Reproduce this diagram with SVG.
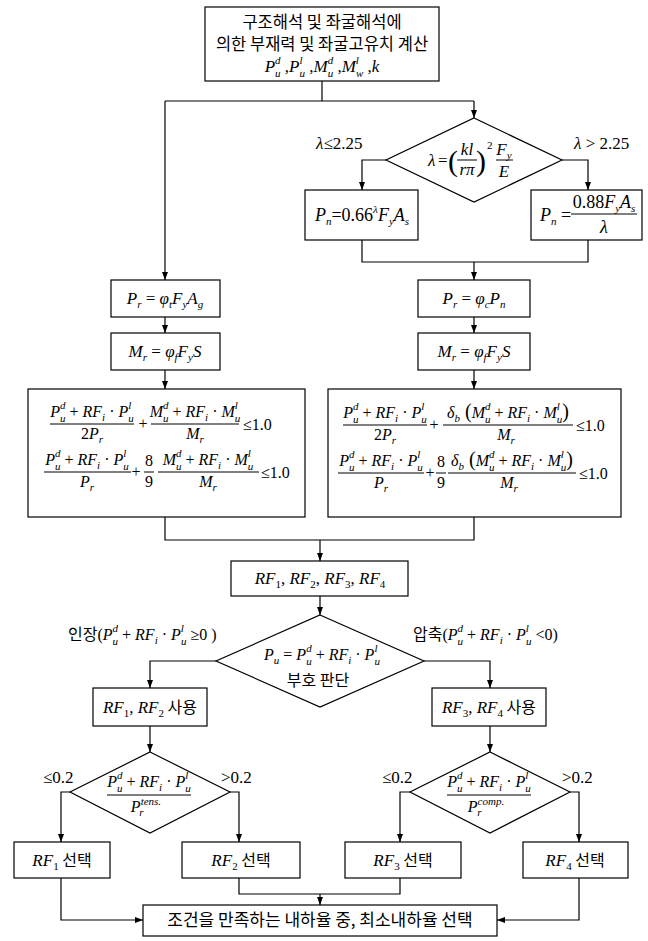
<svg xmlns="http://www.w3.org/2000/svg" width="648" height="941" viewBox="0 0 648 941">
<defs>
<marker id="ah" viewBox="0 0 8 6" refX="8" refY="3" markerWidth="8" markerHeight="6" orient="auto" markerUnits="userSpaceOnUse"><path d="M0,0 L8,3 L0,6 z" fill="#000"/></marker>
</defs>
<style>
.b{fill:#fff;stroke:#000;stroke-width:1.2}
.c{fill:none;stroke:#000;stroke-width:1.2}
.a{fill:none;stroke:#000;stroke-width:1.2;marker-end:url(#ah)}
.k{font-family:"Noto Sans CJK KR","Noto Sans",sans-serif;font-size:16px;fill:#000}
.m{font-family:"Liberation Serif",serif;font-style:italic;font-size:17px;fill:#000}
.e{font-size:16px}
.n{font-style:normal}
.s{font-size:11px}
.kk{font-family:"Noto Sans CJK KR","Noto Sans",sans-serif;font-style:normal;font-size:16px}
.bar{stroke:#000;stroke-width:1}
</style>
<rect x="0" y="0" width="648" height="941" fill="#fff"/>

<g id="connectors">
<path class="c" d="M322,81 V101"/>
<path class="c" d="M165,101 H474"/>
<path class="a" d="M165,101 V280"/>
<path class="a" d="M474,101 V118"/>
<path class="a" d="M386,160 H362 V190"/>
<path class="a" d="M562,160 H588 V190"/>
<path class="c" d="M362,240 V262 H588 V240"/>
<path class="a" d="M474,262 V280"/>
<path class="a" d="M165,317 V333"/>
<path class="a" d="M474,317 V333"/>
<path class="a" d="M165,370 V389"/>
<path class="a" d="M474,370 V389"/>
<path class="c" d="M165,517 V540 H474 V517"/>
<path class="a" d="M320,540 V561"/>
<path class="a" d="M320,596 V615"/>
<path class="a" d="M216,661 H150 V688"/>
<path class="a" d="M424,661 H490 V688"/>
<path class="a" d="M150,726 V752"/>
<path class="a" d="M490,726 V752"/>
<path class="a" d="M70,792 H61 V842"/>
<path class="a" d="M230,792 H239 V842"/>
<path class="a" d="M410,792 H400 V842"/>
<path class="a" d="M570,792 H579 V842"/>
<path class="a" d="M61,878 V920 H143"/>
<path class="c" d="M239,878 V894 H400 V878"/>
<path class="a" d="M320,894 V905"/>
<path class="a" d="M579,878 V920 H497"/>
</g>

<g id="n-top">
<rect class="b" x="205" y="7" width="234" height="74"/>
<text class="k" x="322" y="28" text-anchor="middle" style="font-size:16.5px">구조해석 및 좌굴해석에</text>
<text class="k" x="322" y="50" text-anchor="middle" style="font-size:16.5px">의한 부재력 및 좌굴고유치 계산</text>
<text class="m" x="322" y="72" text-anchor="middle">P<tspan class="s" dy="-8">d</tspan><tspan class="s" dx="-5.5" dy="12.5">u</tspan><tspan class="n" dy="-4.5"> ,</tspan>P<tspan class="s" dy="-8">l</tspan><tspan class="s" dx="-3" dy="12.5">u</tspan><tspan class="n" dy="-4.5"> ,</tspan>M<tspan class="s" dy="-8">d</tspan><tspan class="s" dx="-5.5" dy="12.5">u</tspan><tspan class="n" dy="-4.5"> ,</tspan>M<tspan class="s" dy="-8">l</tspan><tspan class="s" dx="-3" dy="12.5">w</tspan><tspan class="n" dy="-4.5"> ,</tspan>k</text>
</g>

<g id="n-lambda">
<polygon class="b" points="474,118 562,160 474,202 386,160"/>
<text class="m" x="428" y="166">λ</text>
<text class="m n" x="438" y="166">=</text>
<text class="m n" x="448" y="171" style="font-size:30px">(</text>
<text class="m" x="467" y="155" text-anchor="middle">kl</text>
<line class="bar" x1="457" y1="160" x2="477" y2="160"/>
<text class="m" x="467" y="175" text-anchor="middle">rπ</text>
<text class="m n" x="476" y="171" style="font-size:30px">)</text>
<text class="m n s" x="487" y="149">2</text>
<text class="m" x="504" y="155" text-anchor="middle">F<tspan class="s" dy="4">y</tspan></text>
<line class="bar" x1="496" y1="160" x2="513" y2="160"/>
<text class="m" x="504" y="177" text-anchor="middle">E</text>
</g>
<text class="m" x="316" y="149">λ<tspan class="n">≤2.25</tspan></text>
<text class="m" x="574" y="149">λ<tspan class="n"> &gt; 2.25</tspan></text>

<g id="n-pn1">
<rect class="b" x="305" y="190" width="113" height="50"/>
<text class="m" x="362" y="221" text-anchor="middle" style="font-size:18px">P<tspan class="s" dy="4">n</tspan><tspan class="n" dy="-4">=0.66</tspan><tspan class="s" dy="-8">λ</tspan><tspan dy="8">F</tspan><tspan class="s" dy="4">y</tspan><tspan dy="-4">A</tspan><tspan class="s" dy="4">s</tspan></text>
</g>

<g id="n-pn2">
<rect class="b" x="531" y="190" width="111" height="50"/>
<text class="m" x="540" y="221" style="font-size:18px">P<tspan class="s" dy="4">n</tspan><tspan class="n" dy="-4"> =</tspan></text>
<text class="m" x="604" y="208" text-anchor="middle" style="font-size:18px"><tspan class="n">0.88</tspan>F<tspan class="s" dy="4">y</tspan><tspan dy="-4">A</tspan><tspan class="s" dy="4">s</tspan></text>
<line class="bar" x1="571" y1="214" x2="637" y2="214"/>
<text class="m" x="604" y="233" text-anchor="middle" style="font-size:18px">λ</text>
</g>

<g id="n-pr1">
<rect class="b" x="111" y="280" width="109" height="37"/>
<text class="m" x="165" y="304" text-anchor="middle">P<tspan class="s" dy="4">r</tspan><tspan class="n" dy="-4"> = </tspan>φ<tspan class="s" dy="4">t</tspan><tspan dy="-4">F</tspan><tspan class="s" dy="4">y</tspan><tspan dy="-4">A</tspan><tspan class="s" dy="4">g</tspan></text>
</g>
<g id="n-mr1">
<rect class="b" x="111" y="333" width="109" height="37"/>
<text class="m" x="165" y="357" text-anchor="middle">M<tspan class="s" dy="4">r</tspan><tspan class="n" dy="-4"> = </tspan>φ<tspan class="s" dy="4">f</tspan><tspan dy="-4">F</tspan><tspan class="s" dy="4">y</tspan><tspan dy="-4">S</tspan></text>
</g>
<g id="n-pr2">
<rect class="b" x="418" y="280" width="112" height="37"/>
<text class="m" x="474" y="304" text-anchor="middle">P<tspan class="s" dy="4">r</tspan><tspan class="n" dy="-4"> = </tspan>φ<tspan class="s" dy="4">c</tspan><tspan dy="-4">P</tspan><tspan class="s" dy="4">n</tspan></text>
</g>
<g id="n-mr2">
<rect class="b" x="418" y="333" width="112" height="37"/>
<text class="m" x="474" y="357" text-anchor="middle">M<tspan class="s" dy="4">r</tspan><tspan class="n" dy="-4"> = </tspan>φ<tspan class="s" dy="4">f</tspan><tspan dy="-4">F</tspan><tspan class="s" dy="4">y</tspan><tspan dy="-4">S</tspan></text>
</g>

<g id="n-eq1">
<rect class="b" x="28" y="389" width="277" height="128"/>
<text class="m e" x="92" y="417" text-anchor="middle">P<tspan class="s" dy="-8">d</tspan><tspan class="s" dx="-5.5" dy="12.5">u</tspan><tspan class="n" dy="-4.5"> + </tspan>RF<tspan class="s" dy="4">i</tspan><tspan class="n" dy="-4"> · </tspan>P<tspan class="s" dy="-8">l</tspan><tspan class="s" dx="-3" dy="12.5">u</tspan></text>
<line class="bar" x1="50" y1="424" x2="134" y2="424"/>
<text class="m e" x="92" y="439" text-anchor="middle"><tspan class="n">2</tspan>P<tspan class="s" dy="4">r</tspan></text>
<text class="m e n" x="143" y="429" text-anchor="middle">+</text>
<text class="m e" x="195" y="417" text-anchor="middle">M<tspan class="s" dy="-8">d</tspan><tspan class="s" dx="-5.5" dy="12.5">u</tspan><tspan class="n" dy="-4.5"> + </tspan>RF<tspan class="s" dy="4">i</tspan><tspan class="n" dy="-4"> · </tspan>M<tspan class="s" dy="-8">l</tspan><tspan class="s" dx="-3" dy="12.5">u</tspan></text>
<line class="bar" x1="151" y1="424" x2="239" y2="424"/>
<text class="m e" x="195" y="439" text-anchor="middle">M<tspan class="s" dy="4">r</tspan></text>
<text class="m e n" x="243" y="430">≤1.0</text>

<text class="m e" x="87" y="465" text-anchor="middle">P<tspan class="s" dy="-8">d</tspan><tspan class="s" dx="-5.5" dy="12.5">u</tspan><tspan class="n" dy="-4.5"> + </tspan>RF<tspan class="s" dy="4">i</tspan><tspan class="n" dy="-4"> · </tspan>P<tspan class="s" dy="-8">l</tspan><tspan class="s" dx="-3" dy="12.5">u</tspan></text>
<line class="bar" x1="44" y1="472" x2="131" y2="472"/>
<text class="m e" x="87" y="487" text-anchor="middle">P<tspan class="s" dy="4">r</tspan></text>
<text class="m e n" x="136" y="477" text-anchor="middle">+</text>
<text class="m e n" x="149" y="466" text-anchor="middle">8</text>
<line class="bar" x1="144" y1="472" x2="154" y2="472"/>
<text class="m e n" x="149" y="487" text-anchor="middle">9</text>
<text class="m e" x="208" y="465" text-anchor="middle">M<tspan class="s" dy="-8">d</tspan><tspan class="s" dx="-5.5" dy="12.5">u</tspan><tspan class="n" dy="-4.5"> + </tspan>RF<tspan class="s" dy="4">i</tspan><tspan class="n" dy="-4"> · </tspan>M<tspan class="s" dy="-8">l</tspan><tspan class="s" dx="-3" dy="12.5">u</tspan></text>
<line class="bar" x1="158" y1="472" x2="259" y2="472"/>
<text class="m e" x="208" y="487" text-anchor="middle">M<tspan class="s" dy="4">r</tspan></text>
<text class="m e n" x="261" y="478">≤1.0</text>
</g>

<g id="n-eq2">
<rect class="b" x="328" y="389" width="293" height="128"/>
<text class="m e" x="385" y="418" text-anchor="middle">P<tspan class="s" dy="-8">d</tspan><tspan class="s" dx="-5.5" dy="12.5">u</tspan><tspan class="n" dy="-4.5"> + </tspan>RF<tspan class="s" dy="4">i</tspan><tspan class="n" dy="-4"> · </tspan>P<tspan class="s" dy="-8">l</tspan><tspan class="s" dx="-3" dy="12.5">u</tspan></text>
<line class="bar" x1="343" y1="425" x2="427" y2="425"/>
<text class="m e" x="385" y="440" text-anchor="middle"><tspan class="n">2</tspan>P<tspan class="s" dy="4">r</tspan></text>
<text class="m e n" x="434" y="430" text-anchor="middle">+</text>
<text class="m e" x="508" y="418" text-anchor="middle">δ<tspan class="s" dy="4">b</tspan><tspan class="n" dy="-4" style="font-size:20px"> (</tspan>M<tspan class="s" dy="-8">d</tspan><tspan class="s" dx="-5.5" dy="12.5">u</tspan><tspan class="n" dy="-4.5"> + </tspan>RF<tspan class="s" dy="4">i</tspan><tspan class="n" dy="-4"> · </tspan>M<tspan class="s" dy="-8">l</tspan><tspan class="s" dx="-3" dy="12.5">u</tspan><tspan class="n" dy="-4.5" style="font-size:20px">)</tspan></text>
<line class="bar" x1="443" y1="425" x2="573" y2="425"/>
<text class="m e" x="506" y="440" text-anchor="middle">M<tspan class="s" dy="4">r</tspan></text>
<text class="m e n" x="576" y="431">≤1.0</text>

<text class="m e" x="381" y="466" text-anchor="middle">P<tspan class="s" dy="-8">d</tspan><tspan class="s" dx="-5.5" dy="12.5">u</tspan><tspan class="n" dy="-4.5"> + </tspan>RF<tspan class="s" dy="4">i</tspan><tspan class="n" dy="-4"> · </tspan>P<tspan class="s" dy="-8">l</tspan><tspan class="s" dx="-3" dy="12.5">u</tspan></text>
<line class="bar" x1="338" y1="473" x2="424" y2="473"/>
<text class="m e" x="381" y="488" text-anchor="middle">P<tspan class="s" dy="4">r</tspan></text>
<text class="m e n" x="430" y="478" text-anchor="middle">+</text>
<text class="m e n" x="441" y="467" text-anchor="middle">8</text>
<line class="bar" x1="436" y1="473" x2="446" y2="473"/>
<text class="m e n" x="441" y="488" text-anchor="middle">9</text>
<text class="m e" x="512" y="466" text-anchor="middle">δ<tspan class="s" dy="4">b</tspan><tspan class="n" dy="-4" style="font-size:20px"> (</tspan>M<tspan class="s" dy="-8">d</tspan><tspan class="s" dx="-5.5" dy="12.5">u</tspan><tspan class="n" dy="-4.5"> + </tspan>RF<tspan class="s" dy="4">i</tspan><tspan class="n" dy="-4"> · </tspan>M<tspan class="s" dy="-8">l</tspan><tspan class="s" dx="-3" dy="12.5">u</tspan><tspan class="n" dy="-4.5" style="font-size:20px">)</tspan></text>
<line class="bar" x1="448" y1="473" x2="576" y2="473"/>
<text class="m e" x="509" y="488" text-anchor="middle">M<tspan class="s" dy="4">r</tspan></text>
<text class="m e n" x="579" y="479">≤1.0</text>
</g>

<g id="n-rf">
<rect class="b" x="231" y="561" width="177" height="35"/>
<text class="m" x="320" y="584" text-anchor="middle">RF<tspan class="s n" dy="4">1</tspan><tspan class="n" dy="-4">, </tspan>RF<tspan class="s n" dy="4">2</tspan><tspan class="n" dy="-4">, </tspan>RF<tspan class="s n" dy="4">3</tspan><tspan class="n" dy="-4">, </tspan>RF<tspan class="s n" dy="4">4</tspan></text>
</g>

<g id="n-sign">
<polygon class="b" points="320,615 424,661 320,707 216,661"/>
<text class="m e" x="322" y="660" text-anchor="middle">P<tspan class="s" dy="4">u</tspan><tspan class="n" dy="-4"> = </tspan>P<tspan class="s" dy="-8">d</tspan><tspan class="s" dx="-5.5" dy="12.5">u</tspan><tspan class="n" dy="-4.5"> + </tspan>RF<tspan class="s" dy="4">i</tspan><tspan class="n" dy="-4"> · </tspan>P<tspan class="s" dy="-8">l</tspan><tspan class="s" dx="-3" dy="12.5">u</tspan></text>
<text class="k" x="318" y="686" text-anchor="middle">부호 판단</text>
</g>
<text class="m e" x="68" y="640"><tspan class="kk">인장</tspan><tspan class="n">(</tspan>P<tspan class="s" dy="-8">d</tspan><tspan class="s" dx="-5.5" dy="12.5">u</tspan><tspan class="n" dy="-4.5"> + </tspan>RF<tspan class="s" dy="4">i</tspan><tspan class="n" dy="-4"> · </tspan>P<tspan class="s" dy="-8">l</tspan><tspan class="s" dx="-3" dy="12.5">u</tspan><tspan class="n" dy="-4.5"> ≥0 )</tspan></text>
<text class="m e" x="413" y="640"><tspan class="kk">압축</tspan><tspan class="n">(</tspan>P<tspan class="s" dy="-8">d</tspan><tspan class="s" dx="-5.5" dy="12.5">u</tspan><tspan class="n" dy="-4.5"> + </tspan>RF<tspan class="s" dy="4">i</tspan><tspan class="n" dy="-4"> · </tspan>P<tspan class="s" dy="-8">l</tspan><tspan class="s" dx="-3" dy="12.5">u</tspan><tspan class="n" dy="-4.5"> &lt;0)</tspan></text>

<g id="n-use12">
<rect class="b" x="93" y="688" width="114" height="38"/>
<text class="m" x="150" y="713" text-anchor="middle">RF<tspan class="s n" dy="4">1</tspan><tspan class="n" dy="-4">, </tspan>RF<tspan class="s n" dy="4">2</tspan><tspan class="kk" dy="-4"> 사용</tspan></text>
</g>
<g id="n-use34">
<rect class="b" x="432" y="688" width="114" height="38"/>
<text class="m" x="489" y="713" text-anchor="middle">RF<tspan class="s n" dy="4">3</tspan><tspan class="n" dy="-4">, </tspan>RF<tspan class="s n" dy="4">4</tspan><tspan class="kk" dy="-4"> 사용</tspan></text>
</g>

<g id="n-tens">
<polygon class="b" points="150,752 230,792 150,833 70,792"/>
<text class="m e" x="149" y="787" text-anchor="middle">P<tspan class="s" dy="-8">d</tspan><tspan class="s" dx="-5.5" dy="12.5">u</tspan><tspan class="n" dy="-4.5"> + </tspan>RF<tspan class="s" dy="4">i</tspan><tspan class="n" dy="-4"> · </tspan>P<tspan class="s" dy="-8">l</tspan><tspan class="s" dx="-3" dy="12.5">u</tspan></text>
<line class="bar" x1="107" y1="795" x2="191" y2="795"/>
<text class="m e" x="146" y="812" text-anchor="middle">P<tspan class="s" dy="-7">tens.</tspan><tspan class="s" dx="-22" dy="11">r</tspan></text>
</g>
<g id="n-comp">
<polygon class="b" points="490,752 570,792 490,833 410,792"/>
<text class="m e" x="489" y="787" text-anchor="middle">P<tspan class="s" dy="-8">d</tspan><tspan class="s" dx="-5.5" dy="12.5">u</tspan><tspan class="n" dy="-4.5"> + </tspan>RF<tspan class="s" dy="4">i</tspan><tspan class="n" dy="-4"> · </tspan>P<tspan class="s" dy="-8">l</tspan><tspan class="s" dx="-3" dy="12.5">u</tspan></text>
<line class="bar" x1="447" y1="795" x2="531" y2="795"/>
<text class="m e" x="486" y="812" text-anchor="middle">P<tspan class="s" dy="-7">comp.</tspan><tspan class="s" dx="-27" dy="11">r</tspan></text>
</g>
<text class="m n" x="43" y="783">≤0.2</text>
<text class="m n" x="221" y="783">&gt;0.2</text>
<text class="m n" x="382" y="783">≤0.2</text>
<text class="m n" x="562" y="783">&gt;0.2</text>

<g id="n-sel1">
<rect class="b" x="14" y="842" width="96" height="36"/>
<text class="m" x="62" y="866" text-anchor="middle">RF<tspan class="s n" dy="4">1</tspan><tspan class="kk" dy="-4"> 선택</tspan></text>
</g>
<g id="n-sel2">
<rect class="b" x="182" y="842" width="118" height="36"/>
<text class="m" x="241" y="866" text-anchor="middle">RF<tspan class="s n" dy="4">2</tspan><tspan class="kk" dy="-4"> 선택</tspan></text>
</g>
<g id="n-sel3">
<rect class="b" x="345" y="842" width="116" height="36"/>
<text class="m" x="403" y="866" text-anchor="middle">RF<tspan class="s n" dy="4">3</tspan><tspan class="kk" dy="-4"> 선택</tspan></text>
</g>
<g id="n-sel4">
<rect class="b" x="523" y="842" width="105" height="36"/>
<text class="m" x="575" y="866" text-anchor="middle">RF<tspan class="s n" dy="4">4</tspan><tspan class="kk" dy="-4"> 선택</tspan></text>
</g>

<g id="n-final">
<rect class="b" x="143" y="905" width="354" height="31"/>
<text class="k" x="320" y="926" text-anchor="middle" style="font-size:17px">조건을 만족하는 내하율 중, 최소내하율 선택</text>
</g>
</svg>
